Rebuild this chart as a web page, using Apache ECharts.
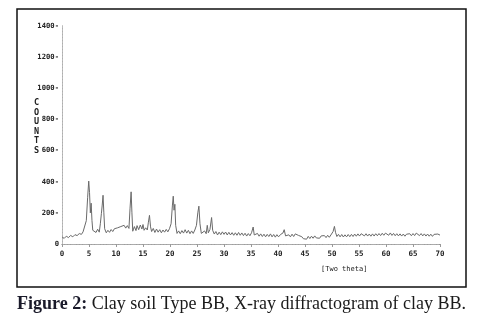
<!DOCTYPE html>
<html>
<head>
<meta charset="utf-8">
<script src="https://cdn.jsdelivr.net/npm/echarts@6/dist/echarts.min.js"></script>
<style>
  html, body { margin: 0; padding: 0; background: #fff; }
  #chart { width: 483px; height: 327px; }
</style>
</head>
<body>
<div id="chart"></div>
<script>
// X-ray diffractogram of clay BB: 2-theta positions and detector counts
const twoTheta = [
  0.0, 0.4, 0.8, 1.2, 1.6, 2.0, 2.4, 2.8, 3.2, 3.6, 3.9, 4.2, 4.5, 4.75, 4.95, 5.1, 5.25, 5.4, 5.55, 5.7,
  6.0, 6.3, 6.6, 6.9, 7.1, 7.3, 7.45, 7.6, 7.75, 7.9, 8.2, 8.5, 8.8, 9.1, 9.4, 9.7, 10.0, 10.3, 10.6, 10.9,
  11.2, 11.5, 11.8, 12.1, 12.4, 12.6, 12.8, 12.95, 13.1, 13.4, 13.7, 13.9, 14.2, 14.5, 14.8, 15.0, 15.2, 15.5, 15.8, 16.0,
  16.2, 16.4, 16.6, 16.9, 17.2, 17.5, 17.8, 18.1, 18.4, 18.7, 19.0, 19.3, 19.6, 19.9, 20.2, 20.45, 20.6, 20.75, 20.9, 21.05,
  21.3, 21.6, 21.9, 22.2, 22.5, 22.8, 23.1, 23.4, 23.7, 24.0, 24.3, 24.6, 24.9, 25.15, 25.35, 25.55, 25.8, 26.1, 26.4, 26.7,
  26.9, 27.1, 27.4, 27.7, 27.9, 28.2, 28.5, 28.8, 29.1, 29.4, 29.7, 30.0, 30.3, 30.6, 30.9, 31.2, 31.5, 31.8, 32.1, 32.4,
  32.7, 33.0, 33.3, 33.6, 33.9, 34.2, 34.5, 34.8, 35.1, 35.4, 35.6, 35.9, 36.2, 36.5, 36.8, 37.1, 37.4, 37.7, 38.0, 38.3,
  38.6, 38.9, 39.2, 39.5, 39.8, 40.1, 40.5, 40.9, 41.15, 41.4, 41.7, 42.0, 42.3, 42.6, 42.9, 43.2, 43.5, 43.8, 44.1, 44.4,
  44.7, 45.0, 45.3, 45.6, 45.9, 46.2, 46.5, 46.8, 47.1, 47.4, 47.7, 48.0, 48.3, 48.6, 48.9, 49.2, 49.5, 49.8, 50.2, 50.45,
  50.65, 50.9, 51.2, 51.5, 51.8, 52.1, 52.4, 52.7, 53.0, 53.3, 53.6, 53.9, 54.2, 54.5, 54.8, 55.1, 55.4, 55.7, 56.0, 56.3,
  56.6, 56.9, 57.2, 57.5, 57.8, 58.1, 58.4, 58.7, 59.0, 59.3, 59.6, 59.9, 60.2, 60.5, 60.8, 61.1, 61.4, 61.7, 62.0, 62.3,
  62.6, 62.9, 63.2, 63.5, 63.8, 64.1, 64.4, 64.7, 65.0, 65.3, 65.6, 65.9, 66.2, 66.5, 66.8, 67.1, 67.4, 67.7, 68.0, 68.3,
  68.6, 68.9, 69.2, 69.6, 70.0
];
const counts = [
  46, 36, 50, 41, 55, 46, 60, 54, 67, 62, 78, 84, 150, 300, 404, 330, 200, 262, 150, 88,
  100, 74, 95, 76, 130, 197, 250, 313, 200, 98, 72, 88, 75, 93, 80, 98, 86, 104, 96, 112,
  104, 120, 102, 118, 100, 230, 335, 200, 82, 112, 86, 118, 92, 122, 96, 125, 88, 104, 90, 140,
  184, 110, 80, 100, 74, 96, 76, 92, 72, 90, 76, 94, 78, 98, 130, 250, 307, 217, 255, 120,
  68, 84, 66, 86, 70, 92, 70, 88, 66, 84, 68, 90, 120, 200, 243, 130, 68, 62, 84, 66,
  120, 72, 94, 170, 88, 64, 80, 58, 76, 60, 78, 62, 77, 58, 75, 58, 73, 56, 72, 56,
  74, 56, 71, 54, 69, 51, 67, 53, 72, 109, 58, 51, 68, 50, 65, 48, 63, 46, 62, 48,
  65, 46, 61, 44, 60, 46, 62, 70, 92, 52, 43, 59, 46, 63, 48, 65, 73, 55, 66, 47,
  34, 43, 31, 49, 35, 50, 37, 52, 39, 51, 37, 52, 40, 54, 41, 56, 43, 58, 80, 113,
  75, 48, 62, 46, 61, 45, 59, 46, 61, 47, 62, 48, 64, 50, 65, 51, 66, 68, 52, 66,
  51, 64, 50, 65, 51, 66, 53, 67, 54, 69, 56, 70, 71, 56, 71, 55, 68, 53, 66, 52,
  65, 51, 64, 50, 63, 51, 66, 53, 67, 54, 70, 68, 54, 67, 52, 65, 51, 64, 50, 63,
  49, 62, 51, 64, 57
];
const xTicks = [0, 5, 10, 15, 20, 25, 30, 35, 40, 45, 50, 55, 60, 65, 70];
const yTicks = [0, 200, 400, 600, 800, 1000, 1200, 1400];

const mono = '"DejaVu Sans Mono", "Liberation Mono", monospace';
const chart = echarts.init(document.getElementById('chart'), null, { renderer: 'canvas' });

chart.setOption({
  animation: false,
  backgroundColor: '#fff',
  grid: { left: 62, right: 43, top: 26, bottom: 83, containLabel: false },
  xAxis: [
    {
      type: 'value', min: xTicks[0], max: xTicks[xTicks.length - 1], interval: 5,
      axisLine: { show: true, onZero: false, lineStyle: { color: '#888', width: 1, type: [3, 1] } },
      axisTick: { show: true, inside: false, length: 3, lineStyle: { color: '#999' } },
      axisLabel: { fontFamily: mono, fontWeight: 'bold', fontSize: 7.5, color: '#222', margin: 6 },
      splitLine: { show: false }
    },
    {
      type: 'value', position: 'top', min: 0, max: 70,
      axisLine: { show: true, lineStyle: { color: '#aaa', width: 1, type: [2, 1] } },
      axisTick: { show: false }, axisLabel: { show: false }, splitLine: { show: false }
    }
  ],
  yAxis: [
    {
      type: 'value', min: yTicks[0], max: yTicks[yTicks.length - 1], interval: 200,
      axisLine: { show: true, lineStyle: { color: '#999', width: 1 } },
      axisTick: { show: false },
      axisLabel: {
        fontFamily: mono, fontWeight: 'bold', fontSize: 7.2, color: '#222', margin: 3,
        formatter: v => v === 0 ? '0' : v + '-'
      },
      splitLine: { show: false }
    },
    {
      type: 'value', position: 'right', min: 0, max: 1400,
      axisLine: { show: true, lineStyle: { color: '#bbb', width: 1, type: [2, 1] } },
      axisTick: { show: false }, axisLabel: { show: false }, splitLine: { show: false }
    }
  ],
  series: [{
    type: 'line',
    xAxisIndex: 0, yAxisIndex: 0,
    data: twoTheta.map((t, i) => [t, counts[i]]),
    showSymbol: false,
    smooth: false,
    sampling: null,
    lineStyle: { color: '#6a6a6a', width: 1 }
  }],
  graphic: [
    {
      type: 'rect', silent: true,
      shape: { x: 17, y: 9, width: 449, height: 278 },
      style: { fill: 'none', stroke: '#111', lineWidth: 1.5 }
    },
    {
      type: 'text', left: 34, top: 98, silent: true,
      style: {
        text: 'C\nO\nU\nN\nT\nS', fontFamily: mono, fontWeight: 'bold',
        fontSize: 8.5, lineHeight: 9.6, fill: '#222'
      }
    },
    {
      type: 'text', left: 321, top: 266, silent: true,
      style: { text: '[Two theta]', fontFamily: mono, fontSize: 7, fill: '#222' }
    },
    {
      type: 'text', left: 'center', top: 295, silent: true,
      style: {
        text: '{b|Figure 2:} Clay soil Type BB, X-ray diffractogram of clay BB.',
        fontFamily: '"Liberation Serif", "Times New Roman", serif',
        fontSize: 18, fill: '#1a1a1a',
        rich: { b: { fontWeight: 'bold', fontFamily: '"Liberation Serif", serif', fontSize: 18, fill: '#1a1a2a' } }
      }
    }
  ]
});
</script>
</body>
</html>
